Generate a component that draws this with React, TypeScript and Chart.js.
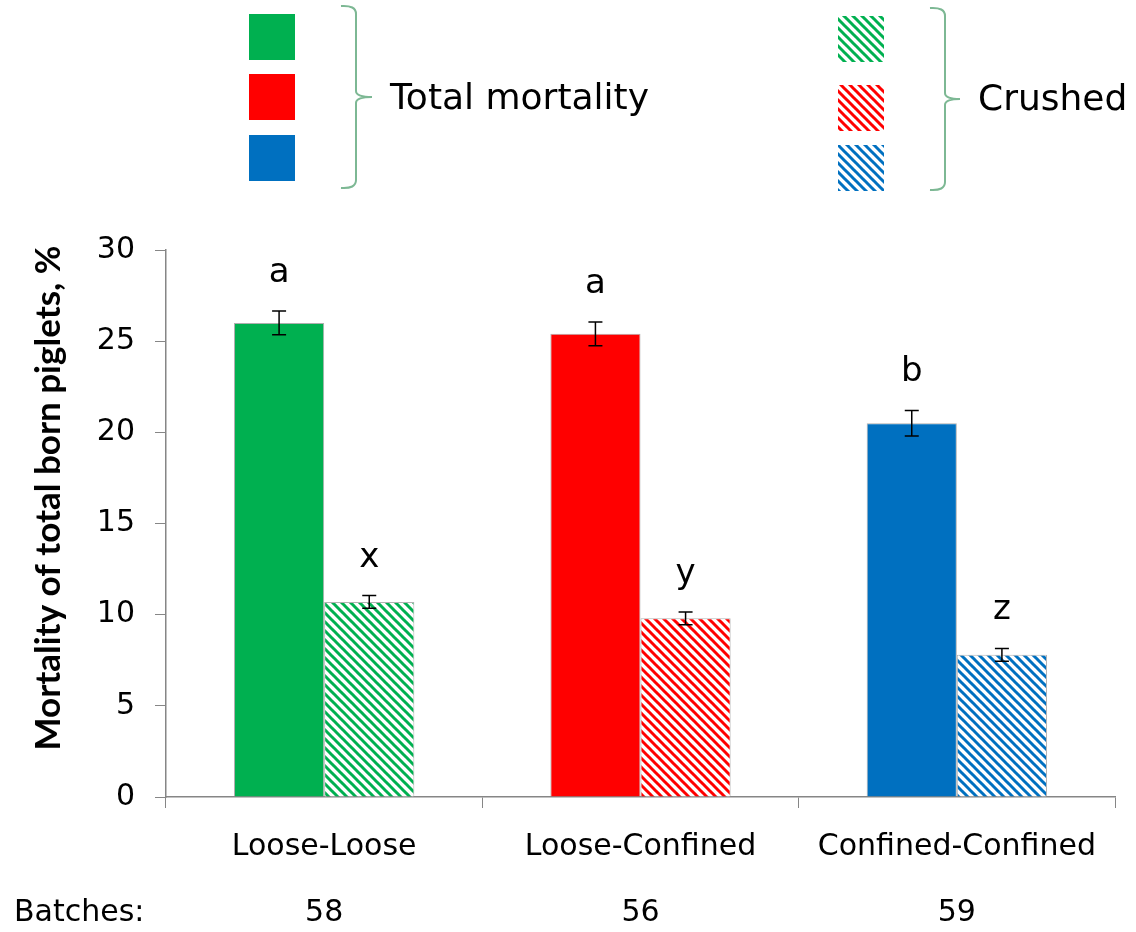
import React, { useEffect, useRef } from "react";
import { Chart, registerables } from "chart.js";

Chart.register(...registerables);

const categories = ["Loose-Loose", "Loose-Confined", "Confined-Confined"];
const batches = ["58", "56", "59"];
const totalMortality = [26.0, 25.4, 20.5];
const totalErr = [0.65, 0.65, 0.7];
const totalLetters = ["a", "a", "b"];
const crushed = [10.7, 9.8, 7.8];
const crushedErr = [0.35, 0.35, 0.35];
const crushedLetters = ["x", "y", "z"];
const colors = ["#00B050", "#FF0000", "#0070C0"];
const yTicks = [0, 5, 10, 15, 20, 25, 30];
const yTitle = "Mortality of total born piglets, %";

const FONT = "'DejaVu Sans', Verdana, sans-serif";

function makePattern(color: string): CanvasPattern | string {
  const c = document.createElement("canvas");
  const s = 9;
  c.width = s;
  c.height = s;
  const ctx = c.getContext("2d");
  if (!ctx) return color;
  ctx.fillStyle = "#ffffff";
  ctx.fillRect(0, 0, s, s);
  ctx.strokeStyle = color;
  ctx.lineWidth = 3;
  for (let k = -1; k <= 1; k++) {
    ctx.beginPath();
    ctx.moveTo(-1, k * s - 1);
    ctx.lineTo(s + 1, s + k * s + 1);
    ctx.stroke();
  }
  return ctx.createPattern(c, "repeat") || color;
}

function drawBrace(ctx: CanvasRenderingContext2D, xl: number, xv: number, xt: number, top: number, bottom: number, mid: number) {
  ctx.save();
  ctx.strokeStyle = "#7DB894";
  ctx.lineWidth = 2;
  ctx.beginPath();
  ctx.moveTo(xl, top);
  ctx.quadraticCurveTo(xv, top - 1, xv, top + 8);
  ctx.lineTo(xv, mid - 6);
  ctx.quadraticCurveTo(xv, mid, xt, mid);
  ctx.quadraticCurveTo(xv, mid, xv, mid + 6);
  ctx.lineTo(xv, bottom - 8);
  ctx.quadraticCurveTo(xv, bottom + 1, xl, bottom);
  ctx.stroke();
  ctx.restore();
}

export default function App() {
  const ref = useRef<HTMLCanvasElement | null>(null);

  useEffect(() => {
    if (!ref.current) return;
    const patterns = colors.map((c) => makePattern(c));

    const overlay = {
      id: "overlay",
      afterDatasetsDraw(chart: any) {
        const ctx: CanvasRenderingContext2D = chart.ctx;
        const y = chart.scales.y;
        const errs = [totalErr, crushedErr];
        const vals = [totalMortality, crushed];
        const letters = [totalLetters, crushedLetters];
        ctx.save();
        [0, 1].forEach((d) => {
          const meta = chart.getDatasetMeta(d);
          meta.data.forEach((bar: any, i: number) => {
            const x = bar.x;
            const yt = y.getPixelForValue(vals[d][i] + errs[d][i]);
            const yb = y.getPixelForValue(vals[d][i] - errs[d][i]);
            ctx.strokeStyle = "#000";
            ctx.lineWidth = 1.5;
            ctx.beginPath();
            ctx.moveTo(x, yt);
            ctx.lineTo(x, yb);
            ctx.moveTo(x - 7, yt);
            ctx.lineTo(x + 7, yt);
            ctx.moveTo(x - 7, yb);
            ctx.lineTo(x + 7, yb);
            ctx.stroke();
            ctx.fillStyle = "#000";
            ctx.font = `34px ${FONT}`;
            ctx.textAlign = "center";
            ctx.textBaseline = "alphabetic";
            ctx.fillText(letters[d][i], x, yt - 29);
          });
        });
        ctx.restore();
      },
      afterDraw(chart: any) {
        const ctx: CanvasRenderingContext2D = chart.ctx;
        const xs = chart.scales.x;
        ctx.save();
        // y title
        ctx.save();
        ctx.translate(49, 498);
        ctx.rotate(-Math.PI / 2);
        ctx.fillStyle = "#000";
        ctx.font = `bold 35px Lato, 'Open Sans', sans-serif`;
        ctx.textAlign = "center";
        ctx.textBaseline = "middle";
        ctx.fillText(yTitle, 0, 0);
        ctx.restore();

        ctx.fillStyle = "#000";
        ctx.font = `30px ${FONT}`;
        ctx.textBaseline = "middle";
        ctx.textAlign = "left";
        ctx.fillText("Batches:", 14, 913);
        ctx.textAlign = "center";
        batches.forEach((b, i) => {
          ctx.fillText(b, xs.getPixelForValue(i), 913);
        });
        // legend
        const solidY = [14, 74, 135];
        const hatchY = [16, 85, 145];
        colors.forEach((c, i) => {
          ctx.fillStyle = c;
          ctx.fillRect(249, solidY[i], 46, 46);
          ctx.fillStyle = patterns[i] as any;
          ctx.fillRect(838, hatchY[i], 46, 46);
        });
        drawBrace(ctx, 341, 356, 372, 6, 188, 97);
        drawBrace(ctx, 930, 945, 960, 8, 190, 99);
        ctx.fillStyle = "#000";
        ctx.font = `36px ${FONT}`;
        ctx.textAlign = "left";
        ctx.textBaseline = "middle";
        ctx.fillText("Total mortality", 390, 100);
        ctx.fillText("Crushed", 978, 101);
        ctx.restore();
      },
    };

    const chart = new Chart(ref.current, {
      type: "bar",
      data: {
        labels: categories,
        datasets: [
          {
            label: "Total mortality",
            data: totalMortality,
            backgroundColor: colors,
            borderColor: "rgba(140,140,140,0.7)",
            borderWidth: 1,
          },
          {
            label: "Crushed",
            data: crushed,
            backgroundColor: patterns as any,
            borderColor: "rgba(160,160,160,0.8)",
            borderWidth: 1,
          },
        ],
      },
      options: {
        responsive: false,
        animation: false,
        devicePixelRatio: 1,
        layout: { padding: { top: 250, right: 21, left: 0, bottom: 0 } },
        datasets: { bar: { categoryPercentage: 0.57, barPercentage: 1 } },
        plugins: { legend: { display: false }, tooltip: { enabled: false } },
        scales: {
          x: {
            afterFit: (s: any) => {
              s.height = 135;
            },
            grid: {
              offset: true,
              drawOnChartArea: false,
              tickLength: 11,
              color: "#868686",
            },
            border: { color: "#868686", width: 1.5 },
            ticks: {
              color: "#000",
              padding: 21,
              font: { family: FONT, size: 30 },
            },
          },
          y: {
            min: 0,
            max: 30,
            afterFit: (s: any) => {
              s.width = 166;
            },
            afterBuildTicks: (s: any) => {
              s.ticks = yTicks.map((v) => ({ value: v }));
            },
            grid: {
              drawOnChartArea: false,
              tickLength: 11,
              color: "#868686",
            },
            border: { color: "#868686", width: 1.5 },
            ticks: {
              color: "#000",
              padding: 20,
              font: { family: FONT, size: 30 },
            },
          },
        },
      },
      plugins: [overlay],
    });
    return () => chart.destroy();
  }, []);

  return (
    <div style={{ position: "absolute", left: 0, top: 0, width: 1136, height: 932, background: "#fff" }}>
      <canvas ref={ref} width={1136} height={932} style={{ display: "block" }} />
    </div>
  );
}
